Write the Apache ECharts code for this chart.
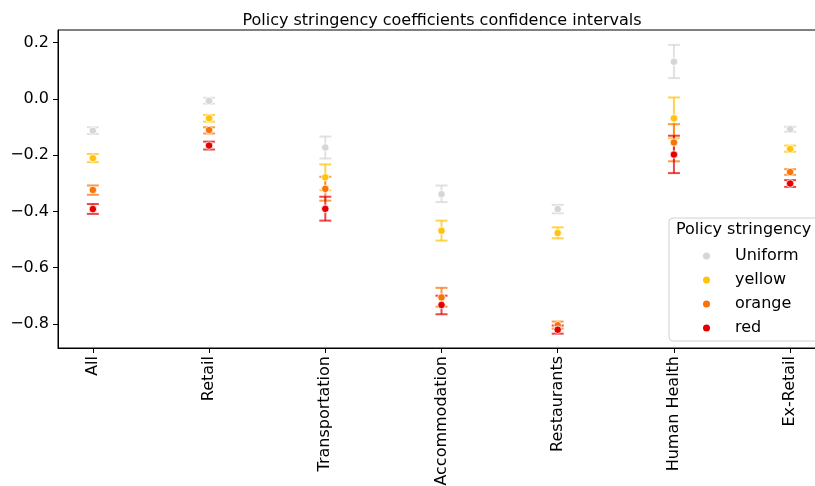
<!DOCTYPE html>
<html>
<head>
<meta charset="utf-8">
<script src="https://cdn.jsdelivr.net/npm/echarts@6/dist/echarts.min.js"></script>
<style>
  html, body { margin: 0; padding: 0; background: #fff; }
  #chart { width: 815px; height: 486px; }
</style>
</head>
<body>
<div id="chart"></div>
<script>
// Sectors on the horizontal axis
const categories = ['All', 'Retail', 'Transportation', 'Accommodation', 'Restaurants', 'Human Health', 'Ex-Retail'];

// Y-axis tick positions
const yTicks = [-0.8, -0.6, -0.4, -0.2, 0.0, 0.2];

// Point estimates and 95% bounds per stringency level
const uniformMid  = [-0.113, -0.007, -0.173, -0.339, -0.392,  0.132, -0.108];
const uniformLow  = [-0.125, -0.017, -0.212, -0.367, -0.407,  0.074, -0.117];
const uniformHigh = [-0.101,  0.004, -0.134, -0.308, -0.377,  0.192, -0.099];

const yellowMid  = [-0.211, -0.069, -0.279, -0.469, -0.477, -0.069, -0.178];
const yellowLow  = [-0.225, -0.081, -0.325, -0.504, -0.496, -0.140, -0.188];
const yellowHigh = [-0.196, -0.057, -0.233, -0.433, -0.457,  0.005, -0.166];

const orangeMid  = [-0.324, -0.111, -0.320, -0.706, -0.805, -0.155, -0.260];
const orangeLow  = [-0.341, -0.123, -0.362, -0.739, -0.817, -0.222, -0.270];
const orangeHigh = [-0.308, -0.101, -0.277, -0.672, -0.792, -0.090, -0.250];

const redMid  = [-0.392, -0.166, -0.391, -0.733, -0.821, -0.198, -0.301];
const redLow  = [-0.409, -0.180, -0.433, -0.766, -0.835, -0.264, -0.313];
const redHigh = [-0.374, -0.152, -0.348, -0.700, -0.806, -0.131, -0.289];

const levels = [
  { name: 'Uniform', color: '#d6d6d6', mid: uniformMid, low: uniformLow, high: uniformHigh },
  { name: 'yellow',  color: '#ffc20e', mid: yellowMid,  low: yellowLow,  high: yellowHigh },
  { name: 'orange',  color: '#f97306', mid: orangeMid,  low: orangeLow,  high: orangeHigh },
  { name: 'red',     color: '#e50000', mid: redMid,     low: redLow,     high: redHigh }
];

const FONT = 'DejaVu Sans';
const catIdx = categories.map((_, i) => i);

function fmtTick(v) {
  const s = Math.abs(v).toFixed(1);
  return (v < -1e-9 ? '\u2212' : '') + s;
}

// Vertical interval with caps at both ends
function errorBar(color) {
  return function (params, api) {
    const x = api.value(0);
    const top = api.coord([x, api.value(2)]);
    const bot = api.coord([x, api.value(1)]);
    const half = 6;
    const style = { stroke: color, lineWidth: 2, opacity: 0.72 };
    return {
      type: 'group',
      children: [
        { type: 'line', shape: { x1: top[0], y1: top[1], x2: bot[0], y2: bot[1] }, style: style },
        { type: 'line', shape: { x1: top[0] - half, y1: top[1], x2: top[0] + half, y2: top[1] }, style: style },
        { type: 'line', shape: { x1: bot[0] - half, y1: bot[1], x2: bot[0] + half, y2: bot[1] }, style: style }
      ]
    };
  };
}

const series = [];
levels.forEach(lv => {
  series.push({
    name: lv.name + ' CI',
    type: 'custom',
    renderItem: errorBar(lv.color),
    encode: { x: 0, y: [1, 2] },
    data: catIdx.map(i => [i, lv.low[i], lv.high[i]]),
    silent: true,
    z: 2
  });
  series.push({
    name: lv.name,
    type: 'scatter',
    symbol: 'circle',
    symbolSize: 7.5,
    itemStyle: { color: lv.color, borderColor: '#ffffff', borderWidth: 0.8, opacity: 1 },
    data: catIdx.map(i => [i, lv.mid[i]]),
    z: 3
  });
});

const chart = echarts.init(document.getElementById('chart'), null, { renderer: 'canvas' });
chart.setOption({
  animation: false,
  backgroundColor: '#ffffff',
  textStyle: { fontFamily: FONT },
  title: {
    text: 'Policy stringency coefficients confidence intervals',
    left: 437,
    top: 8,
    textAlign: 'center',
    textStyle: { fontFamily: FONT, fontSize: 16, fontWeight: 'normal', color: '#000' }
  },
  grid: {
    left: 58, top: 30, width: 767, height: 318,
    outerBoundsMode: 'none',
    containLabel: false,
    show: true, borderColor: '#000', borderWidth: 1, backgroundColor: 'transparent'
  },
  xAxis: {
    type: 'value',
    min: -0.3, max: 6.3,
    splitLine: { show: false },
    axisLine: { show: true, onZero: false, lineStyle: { color: '#000', width: 1 } },
    axisTick: { show: true, length: 5, lineStyle: { color: '#000', width: 1 }, customValues: catIdx },
    axisLabel: {
      customValues: catIdx,
      rotate: 90,
      margin: 8,
      color: '#000',
      fontFamily: FONT,
      fontSize: 16,
      formatter: v => categories[Math.round(v)]
    }
  },
  yAxis: {
    type: 'value',
    min: -0.886, max: 0.245,
    splitLine: { show: false },
    axisLine: { show: true, onZero: false, lineStyle: { color: '#000', width: 1 } },
    axisTick: { show: true, length: 5, lineStyle: { color: '#000', width: 1 }, customValues: yTicks },
    axisLabel: {
      customValues: yTicks,
      margin: 9,
      color: '#000',
      fontFamily: FONT,
      fontSize: 16,
      formatter: fmtTick
    }
  },
  legend: {
    data: levels.map(lv => ({ name: lv.name, icon: 'circle' })),
    orient: 'vertical',
    left: 696,
    top: 242,
    itemWidth: 9,
    itemHeight: 9,
    itemGap: 6,
    selectedMode: false,
    z: 200,
    textStyle: { fontFamily: FONT, fontSize: 16, color: '#000', lineHeight: 18, padding: [0, 0, 0, 19] }
  },
  graphic: [
    {
      type: 'rect',
      shape: { x: 669, y: 218, width: 160, height: 123, r: 4 },
      style: { fill: 'rgba(255,255,255,0.8)', stroke: '#d0d0d0', lineWidth: 1 },
      z: 50
    },
    {
      type: 'text',
      x: 676, y: 230,
      style: { text: 'Policy stringency', font: '16px "DejaVu Sans"', fill: '#000', textVerticalAlign: 'middle' },
      z: 51
    }
  ],
  series: series
});
</script>
</body>
</html>
